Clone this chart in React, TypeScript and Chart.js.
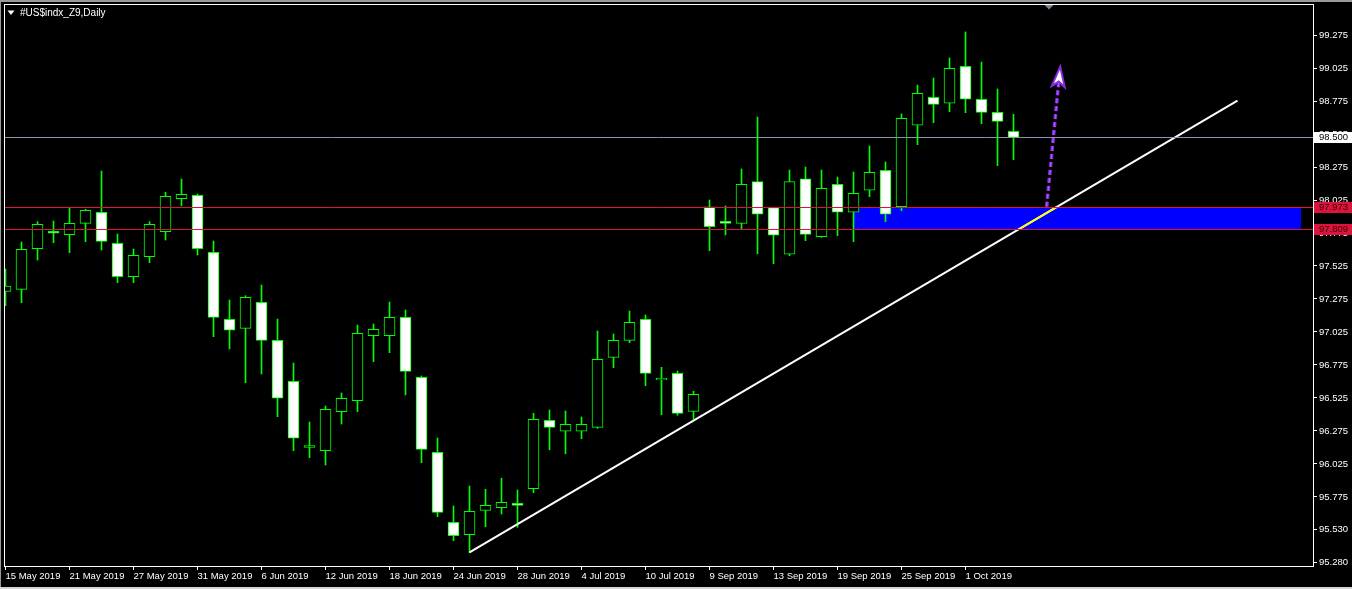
import React, { useEffect, useRef } from 'react';
import { Chart, registerables } from 'chart.js';

Chart.register(...registerables);

const TITLE = '#US$indx_Z9,Daily';

// Daily OHLC, one entry per bar (bar index = position in array)
const opens = [
  97.333, 97.348, 97.656, 97.788, 97.762, 97.848, 97.932, 97.697, 97.444, 97.596,
  97.785, 98.035, 98.061, 97.629, 97.121, 97.053, 97.250, 96.962, 96.652, 96.150,
  96.126, 96.421, 96.505, 96.997, 96.997, 97.136, 96.682, 96.114, 95.583, 95.489,
  95.674, 95.694, 95.727, 95.838, 96.356, 96.273, 96.273, 96.303, 96.833, 96.962,
  97.121, 96.662, 96.712, 96.424, 97.974, 97.864, 97.848, 98.164, 97.967, 97.614,
  98.186, 97.747, 98.144, 97.932, 98.099, 98.250, 97.974, 98.591, 98.803, 98.758,
  99.038, 98.788, 98.689, 98.545,
];
const highs = [
  97.502, 97.707, 97.861, 97.866, 97.967, 97.955, 98.245, 97.767, 97.654, 97.861,
  98.083, 98.184, 98.070, 97.714, 97.267, 97.300, 97.381, 97.123, 96.790, 96.343,
  96.464, 96.563, 97.078, 97.086, 97.252, 97.192, 96.692, 96.222, 95.707, 95.858,
  95.833, 95.917, 95.828, 96.409, 96.434, 96.427, 96.381, 97.033, 97.010, 97.184,
  97.154, 96.758, 96.730, 96.576, 98.025, 97.980, 98.260, 98.654, 97.967, 98.252,
  98.275, 98.252, 98.199, 98.237, 98.434, 98.313, 98.677, 98.896, 98.949, 99.101,
  99.298, 99.070, 98.866, 98.674,
];
const lows = [
  97.224, 97.247, 97.570, 97.702, 97.626, 97.709, 97.646, 97.399, 97.399, 97.550,
  97.722, 97.980, 97.608, 96.989, 96.896, 96.641, 96.707, 96.383, 96.126, 96.073,
  96.017, 96.328, 96.421, 96.800, 96.868, 96.548, 96.035, 95.626, 95.444, 95.353,
  95.550, 95.646, 95.545, 95.808, 96.133, 96.103, 96.217, 96.295, 96.755, 96.944,
  96.618, 96.399, 96.394, 96.364, 97.641, 97.760, 97.803, 97.618, 97.543, 97.603,
  97.717, 97.742, 97.755, 97.709, 98.050, 97.861, 97.944, 98.444, 98.611, 98.694,
  98.686, 98.603, 98.285, 98.330,
];
const closes = [
  97.373, 97.652, 97.841, 97.773, 97.848, 97.947, 97.712, 97.444, 97.606, 97.841,
  98.053, 98.068, 97.656, 97.136, 97.038, 97.288, 96.962, 96.523, 96.220, 96.165,
  96.439, 96.523, 97.015, 97.045, 97.136, 96.727, 96.136, 95.659, 95.482, 95.667,
  95.712, 95.735, 95.712, 96.364, 96.303, 96.326, 96.326, 96.818, 96.962, 97.099,
  96.712, 96.675, 96.409, 96.553, 97.823, 97.848, 98.144, 97.917, 97.758, 98.164,
  97.765, 98.114, 97.932, 98.076, 98.235, 97.917, 98.644, 98.833, 98.750, 99.023,
  98.788, 98.689, 98.621, 98.500,
];

// Axis labels
const xTickLabels = [
  '15 May 2019', '21 May 2019', '27 May 2019', '31 May 2019', '6 Jun 2019',
  '12 Jun 2019', '18 Jun 2019', '24 Jun 2019', '28 Jun 2019', '4 Jul 2019',
  '10 Jul 2019', '9 Sep 2019', '13 Sep 2019', '19 Sep 2019', '25 Sep 2019', '1 Oct 2019',
];
const xTickStep = 4;
const yTickValues = [
  99.275, 99.025, 98.775, 98.525, 98.275, 98.025, 97.775, 97.525, 97.275,
  97.025, 96.775, 96.525, 96.275, 96.025, 95.775, 95.530, 95.280,
];

// Annotations (values)
const priceLevel = 98.5;
const zoneLevels = [97.973, 97.809];
const zoneBars = [53, 81];
const trendStart = [29, 95.356];
const trendEnd = [77, 98.777];
const arrowFrom = [65.07, 97.974];
const arrowTo = [65.92, 99.035];

// Axis ranges
const X_MIN = -0.09375;
const X_MAX = 81.71875;
const Y_MAX = 99.50985;
const Y_MIN = 95.25227;

const FONT = "'Liberation Sans', Arial, sans-serif";
const GREEN = '#00ff00';

export default function App() {
  const ref = useRef<HTMLCanvasElement>(null);

  useEffect(() => {
    const canvas = ref.current;
    if (!canvas) return;

    const idx = opens.map((_, i) => i);
    const slope = (trendEnd[1] - trendStart[1]) / (trendEnd[0] - trendStart[0]);
    const xAt = (v: number) => trendStart[0] + (v - trendStart[1]) / slope;
    const zTop = Math.max(zoneLevels[0], zoneLevels[1]);
    const zBot = Math.min(zoneLevels[0], zoneLevels[1]);
    const inZone = [
      { x: xAt(zBot), y: zBot },
      { x: xAt(zTop), y: zTop },
    ];

    const overlay = {
      id: 'mtOverlay',
      beforeDraw(chart: any) {
        const ctx = chart.ctx;
        ctx.save();
        ctx.fillStyle = '#000';
        ctx.fillRect(0, 0, chart.width, chart.height);
        ctx.restore();
      },
      beforeDatasetsDraw(chart: any) {
        const ctx = chart.ctx;
        const xs = chart.scales.x;
        const ys = chart.scales.y;
        const x0 = xs.getPixelForValue(zoneBars[0]);
        const x1 = xs.getPixelForValue(zoneBars[1]);
        const y0 = ys.getPixelForValue(zTop);
        const y1 = ys.getPixelForValue(zBot);
        ctx.save();
        ctx.fillStyle = '#0000ff';
        ctx.fillRect(Math.round(x0), Math.round(y0), Math.round(x1 - x0), Math.round(y1 - y0));
        ctx.restore();
      },
      afterDatasetsDraw(chart: any) {
        const ctx = chart.ctx;
        const xs = chart.scales.x;
        const ys = chart.scales.y;
        const area = chart.chartArea;
        ctx.save();
        ctx.lineWidth = 1;
        const hline = (v: number, color: string) => {
          const y = Math.round(ys.getPixelForValue(v)) + 0.5;
          ctx.strokeStyle = color;
          ctx.beginPath();
          ctx.moveTo(area.left, y);
          ctx.lineTo(area.right, y);
          ctx.stroke();
        };
        hline(priceLevel, '#8896a8');
        zoneLevels.forEach((v) => hline(v, '#dc143c'));

        // dashed arrow
        const p0 = { x: xs.getPixelForValue(arrowFrom[0]), y: ys.getPixelForValue(arrowFrom[1]) };
        const p1 = { x: xs.getPixelForValue(arrowTo[0]), y: ys.getPixelForValue(arrowTo[1]) };
        const dx = p1.x - p0.x;
        const dy = p1.y - p0.y;
        const len = Math.hypot(dx, dy);
        const ux = dx / len;
        const uy = dy / len;
        const nx = -uy;
        const ny = ux;
        const headLen = 20;
        const headW = 6.5;
        const notch = 5;
        const sx = p1.x - ux * (headLen - notch);
        const sy = p1.y - uy * (headLen - notch);
        ctx.setLineDash([5, 3]);
        ctx.lineCap = 'butt';
        ctx.strokeStyle = '#8a2be2';
        ctx.lineWidth = 3.5;
        ctx.beginPath();
        ctx.moveTo(p0.x, p0.y);
        ctx.lineTo(sx, sy);
        ctx.stroke();
        ctx.strokeStyle = '#a860ff';
        ctx.lineWidth = 1;
        ctx.beginPath();
        ctx.moveTo(p0.x, p0.y);
        ctx.lineTo(sx, sy);
        ctx.stroke();
        ctx.setLineDash([]);
        const bx = p1.x - ux * headLen;
        const by = p1.y - uy * headLen;
        ctx.beginPath();
        ctx.moveTo(p1.x, p1.y);
        ctx.lineTo(bx + nx * headW, by + ny * headW);
        ctx.lineTo(sx, sy);
        ctx.lineTo(bx - nx * headW, by - ny * headW);
        ctx.closePath();
        ctx.fillStyle = '#ffffff';
        ctx.fill();
        ctx.strokeStyle = '#8a2be2';
        ctx.lineWidth = 2;
        ctx.stroke();
        ctx.restore();
      },
      afterDraw(chart: any) {
        const ctx = chart.ctx;
        const ys = chart.scales.y;
        const area = chart.chartArea;
        ctx.save();
        // frame
        ctx.strokeStyle = '#ffffff';
        ctx.lineWidth = 1;
        ctx.strokeRect(area.left + 0.5, area.top + 0.5, area.right - area.left, area.bottom - area.top);

        // price boxes on the right axis
        ctx.font = `9.5px ${FONT}`;
        ctx.textBaseline = 'middle';
        ctx.textAlign = 'left';
        const box = (v: number, bg: string, fg: string) => {
          const y = Math.round(ys.getPixelForValue(v));
          ctx.fillStyle = bg;
          ctx.fillRect(area.right + 1, y - 5, chart.width - area.right - 1, 11);
          ctx.fillStyle = fg;
          ctx.fillText(v.toFixed(3), area.right + 6, y + 0.5);
        };
        box(priceLevel, '#ffffff', '#000000');
        zoneLevels.forEach((v) => box(v, '#dc143c', '#3a0008'));

        // title
        ctx.fillStyle = '#ffffff';
        ctx.beginPath();
        ctx.moveTo(7.5, 10.5);
        ctx.lineTo(14.5, 10.5);
        ctx.lineTo(11, 15);
        ctx.closePath();
        ctx.fill();
        ctx.font = `10px ${FONT}`;
        ctx.fillText(TITLE, 20, 13);

        // chart shift marker
        ctx.fillStyle = '#7a8592';
        ctx.beginPath();
        ctx.moveTo(1044.5, 5);
        ctx.lineTo(1053.5, 5);
        ctx.lineTo(1049, 9.5);
        ctx.closePath();
        ctx.fill();

        // window edges
        ctx.fillStyle = '#9a9a9a';
        ctx.fillRect(0, 0, chart.width, 2);
        ctx.fillRect(0, 0, 1, chart.height);
        ctx.fillStyle = '#d4d4d4';
        ctx.fillRect(0, chart.height - 2, chart.width, 2);
        ctx.restore();
      },
    };

    const chart = new Chart(canvas, {
      type: 'bar',
      data: {
        datasets: [
          {
            type: 'line',
            label: 'trendInZone',
            data: inZone,
            borderColor: '#ffff00',
            borderWidth: 2,
            pointRadius: 0,
            order: -1,
          } as any,
          {
            type: 'line',
            label: 'trend',
            data: [
              { x: trendStart[0], y: trendStart[1] },
              { x: trendEnd[0], y: trendEnd[1] },
            ],
            borderColor: '#ffffff',
            borderWidth: 2,
            pointRadius: 0,
            order: 0,
          } as any,
          {
            type: 'bar',
            label: 'bodies',
            data: idx.map((i) => ({ x: i, y: [opens[i], closes[i]] })),
            backgroundColor: idx.map((i) => (closes[i] >= opens[i] ? '#000000' : '#ffffff')),
            borderColor: GREEN,
            borderWidth: 1,
            borderSkipped: false,
            barThickness: 11,
            grouped: false,
            order: 1,
          } as any,
          {
            type: 'bar',
            label: 'wicks',
            data: idx.map((i) => ({ x: i, y: [lows[i], highs[i]] })),
            backgroundColor: GREEN,
            borderWidth: 0,
            barThickness: 1,
            grouped: false,
            order: 2,
          } as any,
        ],
      },
      options: {
        responsive: false,
        devicePixelRatio: 1,
        animation: false,
        events: [],
        layout: { padding: { left: 4, top: 4, right: 0, bottom: 0 } },
        plugins: { legend: { display: false }, tooltip: { enabled: false }, title: { display: false } },
        scales: {
          x: {
            type: 'linear',
            min: X_MIN,
            max: X_MAX,
            offset: false,
            border: { display: false },
            grid: {
              display: true,
              drawOnChartArea: false,
              drawTicks: true,
              tickLength: 4,
              color: '#ffffff',
              offset: false,
            },
            ticks: {
              color: '#ffffff',
              font: { family: FONT, size: 9.5 },
              align: 'start',
              maxRotation: 0,
              minRotation: 0,
              autoSkip: false,
              padding: 1,
              callback: (v: any) => xTickLabels[Math.round(Number(v) / xTickStep)] ?? '',
            },
            afterBuildTicks: (s: any) => {
              s.ticks = xTickLabels.map((_, i) => ({ value: i * xTickStep }));
            },
            afterFit: (s: any) => {
              s.height = 23;
              s.paddingLeft = 0;
              s.paddingRight = 0;
            },
          } as any,
          y: {
            type: 'linear',
            position: 'right',
            min: Y_MIN,
            max: Y_MAX,
            border: { display: false },
            grid: {
              display: true,
              drawOnChartArea: false,
              drawTicks: true,
              tickLength: 4,
              color: '#ffffff',
            },
            ticks: {
              color: '#ffffff',
              font: { family: FONT, size: 9.5 },
              padding: 2,
              autoSkip: false,
              callback: (v: any) => Number(v).toFixed(3),
            },
            afterBuildTicks: (s: any) => {
              s.ticks = yTickValues.map((v) => ({ value: v }));
            },
            afterFit: (s: any) => {
              s.width = 39;
              s.paddingTop = 0;
              s.paddingBottom = 0;
            },
          } as any,
        },
      },
      plugins: [overlay],
    } as any);

    return () => chart.destroy();
  }, []);

  return (
    <div
      style={{
        position: 'fixed',
        left: 0,
        top: 0,
        width: 1352,
        height: 589,
        background: '#000',
        overflow: 'hidden',
      }}
    >
      <canvas ref={ref} width={1352} height={589} style={{ display: 'block' }} />
    </div>
  );
}
